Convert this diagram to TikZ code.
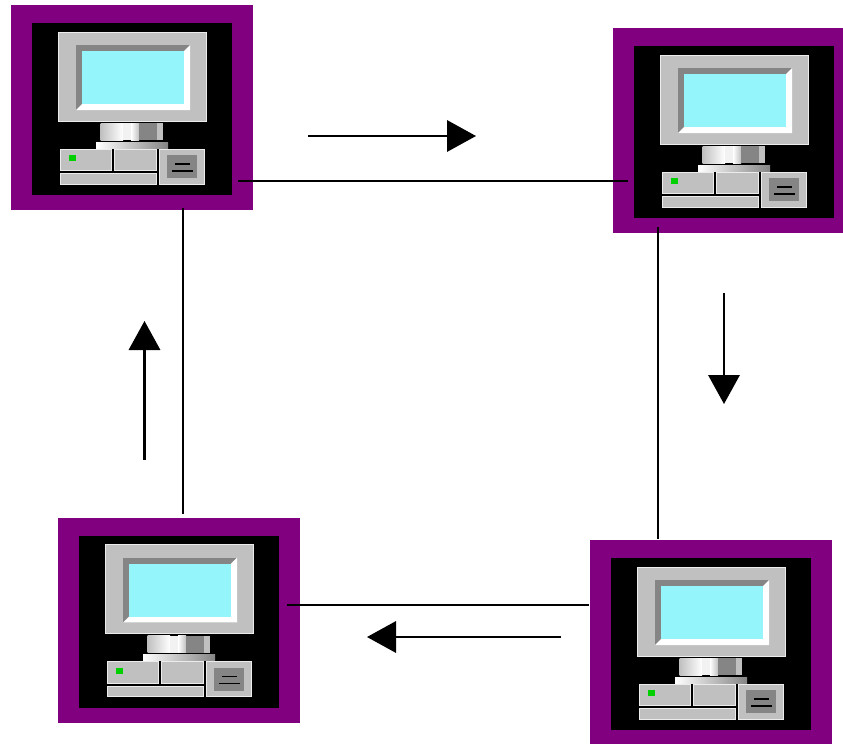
\documentclass[tikz,border=0pt]{standalone}
\usepackage{tikz}
\usetikzlibrary{arrows.meta}
\definecolor{framepurple}{HTML}{800080}
\definecolor{screencyan}{HTML}{94F6FA}
\definecolor{casegray}{HTML}{C0C0C0}
\definecolor{bevelgray}{HTML}{858585}
\definecolor{ledgreen}{HTML}{00D000}

\tikzset{
  pcframe/.style={rectangle, fill=framepurple, anchor=north west, inner sep=0pt, minimum width=181.5pt, minimum height=153.75pt},
  casepart/.style={fill=casegray, draw=white!85!gray, line width=0.5pt},
  link/.style={line width=1.7pt},
  flow/.style={-{Triangle[length=21.75pt, width=23.5pt]}, line width=1.7pt},
  computer/.pic={
    \fill[black] (20.5,18) rectangle (221,190);
    % monitor
    \draw[casepart] (47,27) rectangle (195,116);
    \fill[bevelgray] (65,40) rectangle (179,105);
    \fill[white] (179,40) -- (179,105) -- (65,105) -- (71,99) -- (173,99) -- (173,46) -- cycle;
    \fill[screencyan] (71,46) rectangle (173,99);
    % stand
    \shade[left color=casegray, right color=white] (89.5,118) rectangle (112,135);
    \fill[white!90!gray] (112,118) rectangle (120,135);
    \shade[left color=white, right color=casegray] (120,118) rectangle (128,135);
    \fill[bevelgray] (128,118) rectangle (146,135);
    \fill[casegray] (146,118) rectangle (152,135);
    \shade[left color=white, right color=bevelgray] (85,137) rectangle (157,143);
    % case
    \draw[casepart] (49,144) rectangle (100.5,165.5);
    \draw[casepart] (103.5,144) rectangle (145.5,165.5);
    \draw[casepart] (49,168.5) rectangle (145.5,179);
    \draw[casepart] (148.5,144) rectangle (193,179);
    \fill[bevelgray] (156,150) rectangle (186,173);
    \draw[black, line width=0.9pt] (164,159) -- (179,159);
    \draw[black, line width=0.9pt] (161,166) -- (182,166);
    \fill[ledgreen] (58,150) rectangle (65,156);
  }
}

\begin{document}
\begin{tikzpicture}[x=0.75pt, y=-0.75pt]
  \useasboundingbox (0,0) rectangle (843,743);
  \clip (0,0) rectangle (843,743);

  \foreach \name/\px/\py in {pca/11/5, pcb/613/28, pcc/58/517.5, pcd/590/540} {
    \node[pcframe] (\name) at (\px,\py) {};
    \pic at (\name.north west) {computer};
  }

  % cable ends
  \coordinate (pcaeast) at (238,181);
  \coordinate (pcbwest) at (628,181);
  \coordinate (pcbsouth) at (658,227);
  \coordinate (pcdnorth) at (658,539);
  \coordinate (pcdwest) at (589,605);
  \coordinate (pcceast) at (287,605);
  \coordinate (pccnorth) at (183,514);
  \coordinate (pcasouth) at (183,208);

  \draw[link] (pcaeast) -- (pcbwest);
  \draw[link] (pcbsouth) -- (pcdnorth);
  \draw[link] (pcdwest) -- (pcceast);
  \draw[link] (pccnorth) -- (pcasouth);

  % direction arrows
  \coordinate (topstart) at (308,136);
  \coordinate (topend) at (476,136);
  \coordinate (rightstart) at (724,293);
  \coordinate (rightend) at (724,404);
  \coordinate (bottomstart) at (561,637);
  \coordinate (bottomend) at (367,637);
  \coordinate (leftstart) at (144.5,460);
  \coordinate (leftend) at (144.5,321);

  \draw[flow] (topstart) -- (topend);
  \draw[flow] (rightstart) -- (rightend);
  \draw[flow] (bottomstart) -- (bottomend);
  \draw[flow] (leftstart) -- (leftend);
\end{tikzpicture}
\end{document}
